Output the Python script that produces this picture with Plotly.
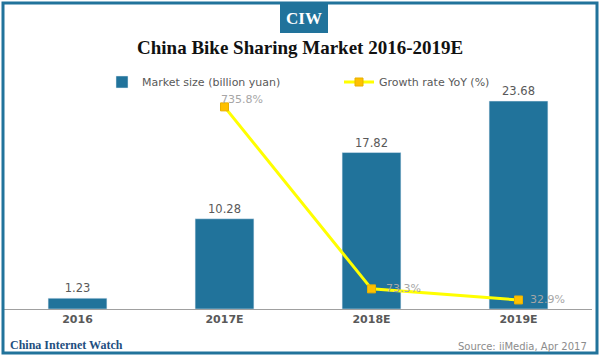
import plotly.graph_objects as go

categories = ["2016", "2017E", "2018E", "2019E"]
market_size = [1.23, 10.28, 17.82, 23.68]
growth_categories = ["2017E", "2018E", "2019E"]
growth_rate = [735.8, 73.3, 32.9]

BLUE = "#21739b"
W, H = 600, 359
ML, MR, MT, MB = 4, 8, 80, 50
PW = W - ML - MR
PH = H - MT - MB

def px(x):
    return (x - ML) / PW

def py(y):
    return (H - MB - y) / PH

fig = go.Figure()
fig.add_trace(go.Bar(
    x=categories, y=market_size, name="Market size (billion yuan)",
    marker=dict(color=BLUE), texttemplate="%{y:.2f}", textposition="outside",
    textfont=dict(color="#595959", size=11.5, family="DejaVu Sans"), cliponaxis=False,
    yaxis="y"))
fig.add_trace(go.Scatter(
    x=growth_categories, y=growth_rate, name="Growth rate YoY (%)",
    mode="lines+markers", line=dict(color="#ffff00", width=3),
    marker=dict(symbol="square", size=8, color="#ffc000", line=dict(color="#e8b000", width=1)),
    cliponaxis=False, yaxis="y2"))

# percentage labels (offsets are styling only)
label_shift = [(-6, 7), (12, 0), (9, 0)]
annotations = []
for cat, val, (dx, dy) in zip(growth_categories, growth_rate, label_shift):
    annotations.append(dict(
        x=cat, y=val, xref="x", yref="y2", text=f"{val:.1f}%", showarrow=False,
        xanchor="left", yanchor="middle", xshift=dx, yshift=dy,
        font=dict(color="#a6a6a6", size=11, family="DejaVu Sans")))

annotations += [
    dict(text="<b>CIW</b>", xref="paper", yref="paper", x=px(304), y=py(18), showarrow=False,
         font=dict(color="white", size=17, family="Liberation Serif"), xanchor="center", yanchor="middle"),
    dict(text="<b>China Bike Sharing Market 2016-2019E</b>", xref="paper", yref="paper",
         x=px(300), y=py(48), showarrow=False,
         font=dict(color="#111111", size=19, family="Liberation Serif"), xanchor="center", yanchor="middle"),
    dict(text="<b>China Internet Watch</b>", xref="paper", yref="paper",
         x=px(8), y=py(345), showarrow=False,
         font=dict(color="#1f4f7f", size=12, family="Liberation Serif"), xanchor="left", yanchor="middle"),
    dict(text="Source: iiMedia, Apr 2017", xref="paper", yref="paper",
         x=px(589), y=py(346), showarrow=False,
         font=dict(color="#8c8c8c", size=10, family="DejaVu Sans"), xanchor="right", yanchor="middle"),
]

fig.update_layout(
    width=W, height=H, margin=dict(l=ML, r=MR, t=MT, b=MB),
    paper_bgcolor="white", plot_bgcolor="white",
    bargap=0.6, showlegend=True,
    legend=dict(orientation="h", x=px(102), xanchor="left", y=py(82), yanchor="middle",
                entrywidth=192, entrywidthmode="pixels",
                font=dict(color="#595959", size=11, family="DejaVu Sans"),
                bgcolor="rgba(0,0,0,0)"),
    xaxis=dict(showline=True, linecolor="#a0a0a0", linewidth=1, ticks="",
               tickfont=dict(color="#595959", size=11, family="DejaVu Sans", weight="bold"),
               showgrid=False, fixedrange=True),
    yaxis=dict(range=[0, PH / 8.78], visible=False, showgrid=False),
    yaxis2=dict(range=[0, PH / 0.2747], visible=False, overlaying="y", showgrid=False),
    shapes=[
        dict(type="rect", xref="paper", yref="paper", x0=px(3), x1=px(597), y0=py(353), y1=py(3),
             line=dict(color=BLUE, width=3), fillcolor="rgba(0,0,0,0)", layer="above"),
        dict(type="rect", xref="paper", yref="paper", x0=px(280), x1=px(328), y0=py(33), y1=py(3),
             line=dict(width=0), fillcolor=BLUE),
    ],
    annotations=annotations,
)

fig.write_html("out.html", config={"displayModeBar": False},
               post_script="document.body.style.margin='0';document.body.style.overflow='hidden';")
